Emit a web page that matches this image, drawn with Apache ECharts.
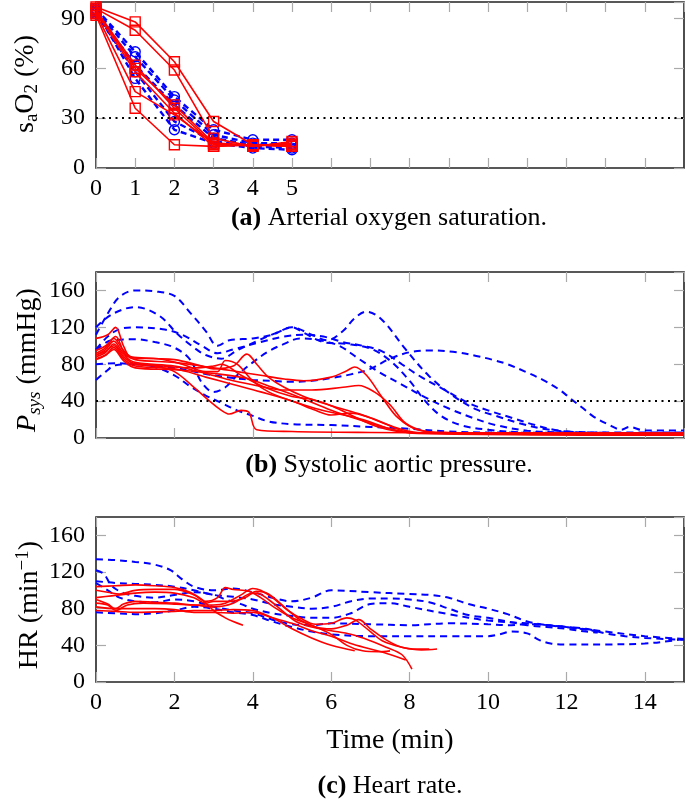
<!DOCTYPE html>
<html>
<head>
<meta charset="utf-8">
<script src="https://cdn.jsdelivr.net/npm/echarts@6/dist/echarts.min.js"></script>
<style>
  html, body { margin: 0; padding: 0; background: #fff; }
  #main { width: 685px; height: 800px; }
</style>
</head>
<body>
<div id="main"></div>
<script>
// (a) arterial oxygen saturation, one sample per minute
var minutesA = [0, 1, 2, 3, 4, 5];
var sao2Red = [
  [97, 88, 64, 28, 14, 14],
  [96, 83, 59, 18, 13, 15],
  [95, 62, 36, 14, 14, 13],
  [94, 58, 33, 13, 14, 14],
  [95, 60, 38, 15, 13, 16],
  [93, 46, 32, 15, 14, 13],
  [92, 36, 14, 13, 14, 13]
];
var sao2Blue = [
  [96, 70, 43, 23, 17, 17],
  [95, 67, 41, 20, 15, 15],
  [94, 62, 38, 18, 14, 14],
  [93, 58, 28, 16, 13, 12],
  [95, 54, 23, 15, 12, 11]
];
var sao2Limit = 30;

// (b) systolic aortic pressure, [min, mmHg]
var psysRed = [
  [[0,108],[0.3,112],[0.5,120],[0.7,100],[0.9,87],[1.5,86],[2,85],[2.7,78],[3,75],[3.5,78],[3.85,91],[4.1,80],[4.4,66],[4.8,55],[5.3,45],[6,35],[6.8,25],[7.4,15],[8,6],[9,5],[15,5]],
  [[0,92],[0.25,98],[0.45,108],[0.7,95],[0.9,88],[1.6,86],[2.2,80],[2.8,72],[3.1,72],[3.3,84],[3.6,80],[4,62],[4.4,50],[5,40],[5.6,32],[6.2,26],[6.8,20],[7.5,10],[8,6],[15,5]],
  [[0,90],[0.25,96],[0.45,105],[0.7,92],[1,85],[2,82],[3,76],[3.6,72],[4.2,68],[4.8,64],[5.3,62],[6,66],[6.4,73],[6.6,77],[6.9,68],[7.3,44],[7.7,22],[8.2,9],[9,6],[15,4]],
  [[0,88],[0.25,93],[0.45,102],[0.7,90],[1,82],[2,78],[2.8,70],[3.5,62],[4.2,56],[4.8,52],[5.5,52],[6.3,55],[6.7,57],[7.1,50],[7.5,36],[7.9,16],[8.4,7],[9,5],[15,5]],
  [[0,85],[0.25,90],[0.45,98],[0.7,86],[1,78],[2,75],[2.8,66],[3.5,58],[4.2,50],[5,40],[5.6,30],[6,25],[6.5,27],[7,22],[7.6,12],[8.2,6],[15,4]],
  [[0,90],[0.25,94],[0.45,100],[0.7,88],[1,80],[1.5,78],[2,72],[2.5,55],[2.9,40],[3.2,30],[3.4,26],[3.7,30],[3.9,28],[4.1,9],[5,7],[7,6],[15,4]],
  [[0,95],[0.25,100],[0.5,110],[0.7,94],[0.9,82],[1.7,78],[2.5,76],[3,78],[3.2,80],[3.7,68],[4.3,55],[5,45],[5.5,42],[6,35],[6.5,25],[7.2,12],[8,6],[15,5]],
  [[0,86],[0.25,90],[0.45,96],[0.7,84],[1,76],[2,74],[3,70],[3.8,65],[4.5,55],[5.2,44],[6,30],[6.7,20],[7.5,10],[8.2,5],[15,3]]
];
var psysBlue = [
  [[0,112],[0.3,135],[0.6,153],[1,160],[1.5,159],[2,154],[2.4,136],[2.8,116],[3.1,100],[3.4,106],[4,108],[4.5,112],[5,120],[5.5,112],[5.9,106],[6.3,116],[6.6,130],[6.9,137],[7.3,128],[7.9,96],[8.5,67],[9.1,46],[9.7,31],[10.2,24],[10.8,16],[11.4,10],[12,7],[13,6],[15,6]],
  [[0,120],[0.4,134],[1,142],[1.6,133],[2.1,112],[2.5,98],[2.8,90],[3.2,86],[3.6,95],[4.1,105],[4.6,114],[5,120],[5.3,114],[5.8,104],[6.4,102],[7,97],[7.5,84],[8,62],[8.4,40],[8.8,24],[9.3,14],[10,9],[11,6],[15,5]],
  [[0,96],[0.3,110],[0.6,118],[1,120],[1.7,118],[2.2,112],[2.7,100],[3.1,92],[3.5,96],[4.2,104],[4.8,110],[5.3,112],[5.8,110],[6.3,104],[6.8,100],[7.3,94],[7.8,80],[8.3,66],[8.9,52],[9.5,38],[10,30],[10.6,22],[11.2,14],[11.8,8],[12.5,6],[15,5]],
  [[0,95],[0.4,106],[1,107],[1.5,104],[2,98],[2.4,85],[2.7,60],[3,50],[3.3,55],[3.6,68],[4,82],[4.4,94],[4.8,102],[5.2,108],[5.7,106],[6.2,100],[6.7,86],[7.2,72],[7.8,58],[8.4,44],[9,32],[9.6,22],[10.2,14],[11,8],[12,6],[15,5]],
  [[0,80],[0.5,81],[1,80],[1.5,78],[2,76],[2.5,72],[3,68],[3.5,65],[4,63],[4.5,62],[5,61],[5.5,62],[6,65],[6.5,69],[7,75],[7.5,86],[8,93],[8.5,95],[9.2,93],[9.7,89],[10.1,85],[10.5,80],[11,71],[11.4,63],[11.8,53],[12.1,43],[12.4,33],[12.7,23],[13.1,14],[13.4,9],[13.6,12],[14,8],[15,8]],
  [[0,63],[0.25,72],[0.5,79],[1,80],[1.5,77],[2,68],[2.4,56],[2.8,46],[3.2,38],[3.6,30],[4,24],[4.4,18],[5,15],[6,14],[7,12],[8,10],[9,7],[10,6],[15,5]]
];
var psysLimit = 40;

// (c) heart rate, [min, 1/min]
var hrRed = [
  [[0,104],[0.5,105],[1,106],[1.5,105],[2,103],[2.4,98],[2.7,90],[3,78],[3.3,70],[3.5,66],[3.75,62]],
  [[0,100],[0.3,98],[0.6,96],[1,100],[1.5,101],[2,101],[2.5,95],[2.8,88],[3.1,92],[3.3,103],[3.5,101],[3.9,99],[4.2,92],[4.6,80],[5,70],[5.5,62],[6,52],[6.4,40],[6.8,34],[7.2,33],[7.5,34]],
  [[0,90],[0.3,85],[0.5,80],[0.7,85],[1,88],[1.5,87],[2,86],[2.5,84],[3,84],[3.3,86],[3.7,95],[4,102],[4.2,100],[4.5,92],[4.9,78],[5.2,70],[5.6,63],[6,64],[6.4,70],[6.6,68],[7,55],[7.3,45],[7.8,38],[8.3,35],[8.7,36]],
  [[0,86],[0.3,84],[0.5,78],[0.8,84],[1.2,86],[2,85],[2.5,84],[3,82],[3.5,86],[3.9,96],[4.1,97],[4.4,90],[4.8,76],[5.1,66],[5.5,60],[6,56],[6.5,52],[7,45],[7.4,38],[7.8,30],[8.06,14]],
  [[0,82],[0.5,80],[1,80],[1.5,80],[2,79],[2.5,76],[3,76],[3.5,75],[4,76],[4.5,70],[5,64],[5.5,56],[6,50],[6.5,42],[7,36],[7.5,30],[7.9,24]],
  [[0,78],[0.5,77],[1,76],[2,77],[2.5,78],[3,78],[3.5,79],[4,78],[4.5,70],[5,58],[5.5,48],[6,40],[6.6,34]],
  [[0,92],[0.4,94],[1,97],[1.5,98],[2,97],[2.5,92],[2.8,86],[3,88],[3.4,88],[3.8,92],[4.1,99],[4.4,96],[4.8,82],[5.2,68],[5.6,60],[6,58],[6.4,62],[6.7,68],[7,58],[7.4,46],[7.8,38],[8.2,36],[8.5,36]]
];
var hrBlue = [
  [[0,134],[0.5,133],[1,131],[1.5,128],[1.9,122],[2.2,112],[2.5,104],[3,100],[3.5,102],[4,98],[4.5,92],[5,88],[5.5,92],[6,100],[7,98],[8,96],[8.5,95],[9,92],[9.5,85],[10,80],[10.5,74],[11,66],[11.5,62],[12,60],[12.5,58],[13,53],[13.5,50],[14,48],[15,46]],
  [[0,110],[0.5,108],[1,107],[1.5,106],[2,104],[2.5,100],[3,95],[3.5,93],[4,90],[4.5,85],[5,82],[5.5,80],[6,82],[6.5,88],[7,91],[7.5,91],[8,90],[8.5,87],[9,80],[9.5,73],[10,70],[10.5,66],[11,62],[11.5,60],[12,58],[12.5,55],[12.8,54]],
  [[0,122],[0.2,118],[0.4,105],[0.7,97],[1,94],[1.5,92],[2,95],[2.5,98],[3,95],[3.3,90],[3.7,85],[4,80],[4.5,75],[5,72],[5.5,70],[6,70],[6.5,75],[7,85],[7.5,86],[8,82],[9,74],[10,67],[11,64],[12,60],[13,55],[14,50],[15,47]],
  [[0,108],[0.3,100],[0.6,92],[1,88],[1.5,87],[2,90],[2.5,88],[3,82],[3.5,78],[4,75],[4.5,68],[5,63],[5.5,62],[6,64],[7,63],[8,62],[9,64],[10,63],[10.5,62],[11,63],[12,60],[12.8,55]],
  [[0,76],[0.5,75],[1,74],[1.5,75],[2,78],[2.5,82],[3,80],[3.5,76],[4,73],[4.5,66],[5,60],[5.5,55],[6,52],[7,50],[8,50],[9,50],[10,50],[10.3,52],[10.6,55],[11,53],[11.3,46],[11.6,42],[12,41],[13,41],[14,42],[14.7,45],[15,47]]
];

var RED = '#ff0000';
var BLUE = '#0000ff';
var SERIF = 'Liberation Serif';

var chart = echarts.init(document.getElementById('main'));

var grids = [
  { left: 96, top: 2, width: 588, height: 166 },
  { left: 96, top: 272, width: 588, height: 166 },
  { left: 96, top: 517, width: 588, height: 165 }
];
grids.forEach(function (g) {
  g.show = true;
  g.borderColor = '#222';
  g.borderWidth = 1.6;
  g.containLabel = false;
  g.outerBoundsMode = 'none';
});

var tickStyle = { show: true, inside: true, length: 10, lineStyle: { color: '#aaa', width: 1.2 } };

function xAxes(gi, interval, labelFn) {
  var base = {
    type: 'value', gridIndex: gi, min: 0, max: 15, interval: interval,
    axisLine: { show: false, onZero: false },
    axisTick: tickStyle,
    splitLine: { show: false }
  };
  var bottom = Object.assign({}, base, {
    position: 'bottom',
    axisLabel: {
      show: !!labelFn, formatter: labelFn, margin: 9, showMaxLabel: false,
      color: '#000', fontFamily: SERIF, fontSize: 24
    }
  });
  var top = Object.assign({}, base, { position: 'top', axisLabel: { show: false } });
  return [bottom, top];
}

function yAxes(gi, max, interval) {
  var base = {
    type: 'value', gridIndex: gi, min: 0, max: max, interval: interval,
    axisLine: { show: false, onZero: false },
    axisTick: tickStyle,
    splitLine: { show: false }
  };
  var left = Object.assign({}, base, {
    position: 'left',
    axisLabel: { margin: 11, showMaxLabel: false, color: '#000', fontFamily: SERIF, fontSize: 24 }
  });
  var right = Object.assign({}, base, { position: 'right', axisLabel: { show: false } });
  return [left, right];
}

var xAxis = []
  .concat(xAxes(0, 1, function (v) { return v <= 5 ? String(v) : ''; }))
  .concat(xAxes(1, 2, null))
  .concat(xAxes(2, 2, function (v) { return String(v); }));
var yAxis = []
  .concat(yAxes(0, 100, 30))
  .concat(yAxes(1, 180, 40))
  .concat(yAxes(2, 180, 40));

var series = [];

function limitLine(axis, value) {
  return {
    type: 'line', xAxisIndex: axis, yAxisIndex: axis, data: [],
    markLine: {
      silent: true, symbol: ['none', 'none'], label: { show: false },
      lineStyle: { color: '#000', width: 2, type: [2, 4.5] },
      data: [{ yAxis: value }]
    }
  };
}

// panel (a)
sao2Blue.forEach(function (vals) {
  series.push({
    type: 'line', xAxisIndex: 0, yAxisIndex: 0,
    data: minutesA.map(function (m, k) { return [m, vals[k]]; }),
    symbol: 'circle', symbolSize: 10,
    itemStyle: { color: 'rgba(0,0,0,0)', borderColor: BLUE, borderWidth: 1.4 },
    lineStyle: { color: BLUE, width: 2.4, type: [6, 4] }, z: 2
  });
});
sao2Red.forEach(function (vals) {
  series.push({
    type: 'line', xAxisIndex: 0, yAxisIndex: 0,
    data: minutesA.map(function (m, k) { return [m, vals[k]]; }),
    symbol: 'rect', symbolSize: 10,
    itemStyle: { color: 'rgba(0,0,0,0)', borderColor: RED, borderWidth: 1.4 },
    lineStyle: { color: RED, width: 1.6 }, z: 3
  });
});
series.push(limitLine(0, sao2Limit));

function curve(data, axis, color, dashed) {
  return {
    type: 'line', xAxisIndex: axis, yAxisIndex: axis, data: data,
    showSymbol: false, symbol: 'none', smooth: 0.35,
    lineStyle: dashed ? { color: color, width: 2, type: [7, 5] } : { color: color, width: 1.6 },
    z: dashed ? 2 : 3
  };
}

// panel (b)
psysBlue.forEach(function (d) { series.push(curve(d, 2, BLUE, true)); });
psysRed.forEach(function (d) { series.push(curve(d, 2, RED, false)); });
series.push(limitLine(2, psysLimit));

// panel (c)
hrBlue.forEach(function (d) { series.push(curve(d, 4, BLUE, true)); });
hrRed.forEach(function (d) { series.push(curve(d, 4, RED, false)); });

var titleRich = {
  m: { fontFamily: SERIF, fontSize: 28, color: '#000' },
  i: { fontFamily: SERIF, fontSize: 28, fontStyle: 'italic', color: '#000' },
  s: { fontFamily: SERIF, fontSize: 19, color: '#000', padding: [13, 0, 0, 0] },
  si: { fontFamily: SERIF, fontSize: 19, fontStyle: 'italic', color: '#000', padding: [13, 0, 0, 0] },
  u: { fontFamily: SERIF, fontSize: 19, color: '#000', padding: [0, 0, 13, 0] }
};
var capRich = {
  b: { fontFamily: SERIF, fontSize: 26, fontWeight: 'bold', color: '#000' },
  r: { fontFamily: SERIF, fontSize: 26, color: '#000' }
};

function vtext(x, y, txt) {
  return {
    type: 'text', x: x, y: y, rotation: Math.PI / 2,
    style: { text: txt, rich: titleRich, align: 'center', verticalAlign: 'middle' }
  };
}
function htext(x, y, txt, rich) {
  return {
    type: 'text', x: x, y: y,
    style: { text: txt, rich: rich, align: 'center', verticalAlign: 'middle' }
  };
}

var option = {
  animation: false,
  backgroundColor: '#fff',
  grid: grids,
  xAxis: xAxis,
  yAxis: yAxis,
  series: series,
  graphic: [
    vtext(26, 84, '{m|s}{s|a}{m|O}{s|2}{m| (%)}'),
    vtext(28, 360, '{i|P}{si|sys}{m| (mmHg)}'),
    vtext(30, 605, '{m|HR (min}{u|−1}{m|)}'),
    htext(389, 218, '{b|(a)}{r| Arterial oxygen saturation.}', capRich),
    htext(389, 465, '{b|(b)}{r| Systolic aortic pressure.}', capRich),
    htext(390, 741, '{m|Time (min)}', titleRich),
    htext(390, 786, '{b|(c)}{r| Heart rate.}', capRich)
  ]
};

chart.setOption(option);
window.addEventListener('resize', function () { chart.resize(); });
</script>
</body>
</html>
